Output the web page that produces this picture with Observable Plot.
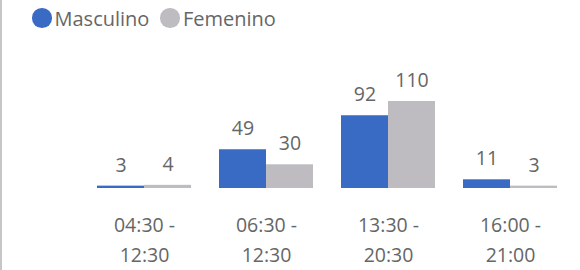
<!DOCTYPE html>
<html><head><meta charset="utf-8">
<script src="https://cdn.jsdelivr.net/npm/d3@7"></script>
<script src="https://cdn.jsdelivr.net/npm/@observablehq/plot@0.6"></script>
<style>
body{margin:0;background:#fff;font-family:"Segoe UI","Open Sans",sans-serif;}
#wrap{position:relative;width:580px;height:270px;overflow:hidden;}
#edge{position:absolute;left:0;top:0;width:2px;height:270px;background:#c6c6c6;}
#legend{height:36px;display:flex;align-items:center;padding-left:32px;font-size:20px;color:#666;}
.item{display:flex;align-items:center;margin-right:11px;}
.sw{width:19.5px;height:19.5px;border-radius:50%;margin-right:3px;}
svg{display:block;}
</style></head>
<body><div id="wrap"><div id="edge"></div><div id="legend"></div><div id="chart"></div></div>
<script>
const categories = ["04:30 - 12:30", "06:30 - 12:30", "13:30 - 20:30", "16:00 - 21:00"];
const series = ["Masculino", "Femenino"];
const masculino = [3, 49, 92, 11];
const femenino = [4, 30, 110, 3];
const colors = ["#3a6bc4", "#bebcc1"];

const rows = [];
categories.forEach((c, i) => {
  rows.push({cat: c, series: series[0], value: masculino[i]});
  rows.push({cat: c, series: series[1], value: femenino[i]});
});

const legend = document.getElementById("legend");
series.forEach((s, i) => {
  const it = document.createElement("div");
  it.className = "item";
  const sw = document.createElement("span");
  sw.className = "sw";
  sw.style.background = colors[i];
  const lab = document.createElement("span");
  lab.textContent = s;
  it.appendChild(sw); it.appendChild(lab);
  legend.appendChild(it);
});

const chart = Plot.plot({
  width: 580,
  height: 234,
  marginTop: 65,
  marginBottom: 82,
  marginLeft: 82,
  marginRight: 9,
  style: {fontFamily: '"Segoe UI","Open Sans",sans-serif', background: "transparent"},
  fx: {domain: categories, paddingInner: 0.233, paddingOuter: 0.1165, label: null, axis: null},
  x: {domain: series, axis: null, padding: 0},
  y: {domain: [0, 110], axis: null},
  color: {domain: series, range: colors},
  marks: [
    Plot.barY(rows, {fx: "cat", x: "series", y: "value", fill: "series"}),
    Plot.text(rows, {fx: "cat", x: "series", y: "value", text: d => String(d.value), lineAnchor: "bottom", dy: -14.5, fontSize: 19.5, fill: "#666"}),
    Plot.axisFx({anchor: "bottom", tickSize: 0, tickPadding: 22, fontSize: 19.5, lineHeight: 1.54, tickFormat: d => d.replace(" - ", " -\n"), label: null, color: "#666"})
  ]
});
document.getElementById("chart").appendChild(chart);
</script>
</body></html>
